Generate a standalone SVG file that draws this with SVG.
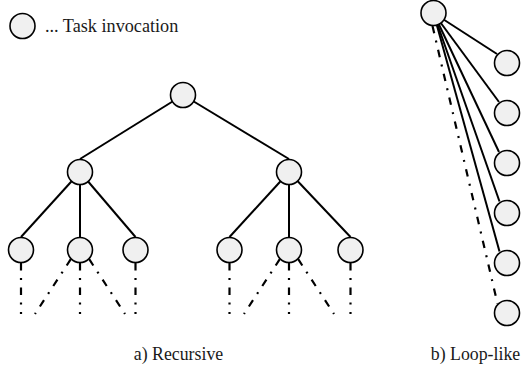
<svg xmlns="http://www.w3.org/2000/svg" width="522" height="371" viewBox="0 0 522 371">
  <style>
    .node { fill: #f0f0f0; stroke: #000; stroke-width: 1.6; }
    .edge { stroke: #000; stroke-width: 2; fill: none; }
    .dd { stroke: #000; stroke-width: 2.2; fill: none; stroke-dasharray: 7.5 7.5 2 7.5; }
  </style>
  <rect width="522" height="371" fill="#fff"/>

  <!-- legend -->
  <g id="legend">
    <circle class="node" cx="22.5" cy="26" r="12.5"/>
    <text x="45" y="32" style="font-family:'Liberation Serif', serif; font-size:18.2px; fill:#1a1a1a">... Task invocation</text>
  </g>

  <!-- connectors -->
  <g id="connectors">
    <!-- recursive tree -->
    <line class="edge" x1="183" y1="95" x2="80" y2="159"/>
    <line class="edge" x1="183" y1="95" x2="289" y2="159"/>
    <line class="edge" x1="80" y1="172" x2="21" y2="237"/>
    <line class="edge" x1="80" y1="172" x2="80" y2="237"/>
    <line class="edge" x1="80" y1="172" x2="135.5" y2="237"/>
    <line class="edge" x1="289" y1="172" x2="229.5" y2="237"/>
    <line class="edge" x1="289" y1="172" x2="289" y2="237"/>
    <line class="edge" x1="289" y1="172" x2="350.5" y2="237"/>
    <!-- further recursion (dash-dot) -->
    <line class="dd" x1="21" y1="263" x2="21" y2="314"/>
    <line class="dd" x1="80" y1="263" x2="80" y2="314"/>
    <line class="dd" x1="135.5" y1="263" x2="135.5" y2="314"/>
    <line class="dd" x1="70.8" y1="259.2" x2="35" y2="314"/>
    <line class="dd" x1="89.2" y1="259.2" x2="125" y2="314"/>
    <line class="dd" x1="229.5" y1="263" x2="229.5" y2="314"/>
    <line class="dd" x1="289" y1="263" x2="289" y2="314"/>
    <line class="dd" x1="350.5" y1="263" x2="350.5" y2="314"/>
    <line class="dd" x1="279.8" y1="259.2" x2="244" y2="314"/>
    <line class="dd" x1="298.2" y1="259.2" x2="334" y2="314"/>
    <!-- loop-like fan -->
    <line class="edge" x1="433.5" y1="13" x2="497" y2="54"/>
    <line class="edge" x1="433.5" y1="13" x2="499" y2="102"/>
    <line class="edge" x1="433.5" y1="13" x2="499" y2="152"/>
    <line class="edge" x1="433.5" y1="13" x2="499.5" y2="201.5"/>
    <line class="edge" x1="433.5" y1="13" x2="499.5" y2="251.5"/>
    <line class="dd" x1="432.5" y1="26" x2="497.5" y2="303.5"/>
  </g>

  <!-- recursive tree nodes -->
  <g id="r0"><circle class="node" cx="183" cy="95" r="12.5"/></g>
  <g id="r1"><circle class="node" cx="80" cy="172" r="12.5"/></g>
  <g id="r2"><circle class="node" cx="289" cy="172" r="12.5"/></g>
  <g id="r11"><circle class="node" cx="21" cy="250" r="12.5"/></g>
  <g id="r12"><circle class="node" cx="80" cy="250" r="12.5"/></g>
  <g id="r13"><circle class="node" cx="135.5" cy="250" r="12.5"/></g>
  <g id="r21"><circle class="node" cx="229.5" cy="250" r="12.5"/></g>
  <g id="r22"><circle class="node" cx="289" cy="250" r="12.5"/></g>
  <g id="r23"><circle class="node" cx="350.5" cy="250" r="12.5"/></g>

  <!-- loop-like nodes -->
  <g id="l0"><circle class="node" cx="433.5" cy="13" r="12.5"/></g>
  <g id="l1"><circle class="node" cx="507" cy="63" r="12.5"/></g>
  <g id="l2"><circle class="node" cx="507" cy="113" r="12.5"/></g>
  <g id="l3"><circle class="node" cx="507" cy="163" r="12.5"/></g>
  <g id="l4"><circle class="node" cx="507" cy="213" r="12.5"/></g>
  <g id="l5"><circle class="node" cx="507" cy="263" r="12.5"/></g>
  <g id="l6"><circle class="node" cx="507" cy="313" r="12.5"/></g>

  <!-- captions -->
  <text x="178.5" y="360" text-anchor="middle" style="font-family:'Liberation Serif', serif; font-size:17.8px; fill:#1a1a1a">a) Recursive</text>
  <text x="475.5" y="360" text-anchor="middle" style="font-family:'Liberation Serif', serif; font-size:17.8px; fill:#1a1a1a">b) Loop-like</text>
</svg>
